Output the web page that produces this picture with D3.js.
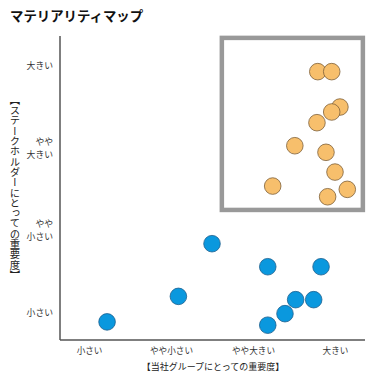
<!DOCTYPE html>
<html><head><meta charset="utf-8">
<script src="https://cdn.jsdelivr.net/npm/d3@7"></script>
<style>
html,body{margin:0;padding:0;background:#fff;}
svg{display:block;font-family:"Noto Sans CJK JP","Noto Sans",sans-serif;}
</style></head>
<body>
<svg id="chart" width="380" height="385"></svg>
<script>
const title = "マテリアリティマップ";
const xAxisTitle = "【当社グループにとっての重要度】";
const yAxisTitle = "【ステークホルダーにとっての重要度】";
const xTickLabels = ["小さい", "やや小さい", "やや大きい", "大きい"];
const yTickLabels = [["小さい"], ["やや", "小さい"], ["やや", "大きい"], ["大きい"]];

// high-materiality items (orange)
const highX = [2.79, 2.96, 3.06, 2.96, 2.78, 2.51, 2.89, 3.00, 2.24, 3.15, 2.91];
const highY = [2.92, 2.92, 2.49, 2.43, 2.30, 2.02, 1.94, 1.70, 1.53, 1.49, 1.40];
// other items (blue)
const lowX = [1.50, 2.18, 2.83, 1.09, 2.52, 2.74, 2.39, 0.22, 2.18];
const lowY = [0.83, 0.55, 0.55, 0.19, 0.15, 0.15, -0.02, -0.12, -0.16];
// highlighted region [x0, x1], [y0, y1]
const regionX = [1.62, 3.34];
const regionY = [1.24, 3.33];

const svg = d3.select("#chart");
const x = d3.scaleLinear().domain([-0.354, 3.366]).range([60, 365]);
const y = d3.scaleLinear().domain([-0.34, 3.353]).range([340, 36]);

svg.append("text").attr("x", 10).attr("y", 21)
  .attr("font-size", 13.4).attr("font-weight", "bold").attr("fill", "#111")
  .text(title);

// highlight rectangle
svg.append("rect")
  .attr("x", x(regionX[0])).attr("y", y(regionY[1]))
  .attr("width", x(regionX[1]) - x(regionX[0]))
  .attr("height", y(regionY[0]) - y(regionY[1]))
  .attr("fill", "none").attr("stroke", "#999").attr("stroke-width", 4.5);

// axes
const xAxis = d3.axisBottom(x).tickValues([0,1,2,3]).tickSize(0).tickFormat(d => xTickLabels[d]);
const gx = svg.append("g").attr("transform", "translate(0,340)").call(xAxis);
gx.select(".domain").attr("stroke", "#555").attr("stroke-width", 1.5).attr("d", "M60,0H365");
gx.selectAll(".tick text").attr("dy", 0).attr("y", 14).attr("font-size", 8.6)
  .attr("fill", "#333").attr("font-family", "Noto Sans CJK JP");

const yAxis = d3.axisLeft(y).tickValues([0,1,2,3]).tickSize(0).tickFormat("");
const gy = svg.append("g").attr("transform", "translate(60,0)").call(yAxis);
gy.select(".domain").attr("stroke", "#555").attr("stroke-width", 1.5).attr("d", "M0,36V340");
gy.selectAll(".tick").each(function(d) {
  const lines = yTickLabels[d];
  const t = d3.select(this).append("text")
    .attr("text-anchor", "end").attr("font-size", 8.8).attr("fill", "#333")
    .attr("font-family", "Noto Sans CJK JP");
  const lh = 13;
  lines.forEach((s, i) => {
    t.append("tspan").attr("x", -7)
      .attr("y", (i - (lines.length - 1) / 2) * lh + 3.2).text(s);
  });
});

// axis titles
svg.append("text").attr("x", 213).attr("y", 370).attr("text-anchor", "middle")
  .attr("font-size", 9).attr("fill", "#222").text(xAxisTitle);
svg.append("text").attr("x", 15).attr("y", 187.5).attr("text-anchor", "middle")
  .attr("font-size", 10.3).attr("fill", "#222")
  .style("writing-mode", "vertical-rl").style("text-orientation", "mixed")
  .text(yAxisTitle);

// points
const low = lowX.map((v, i) => ({x: v, y: lowY[i]}));
const high = highX.map((v, i) => ({x: v, y: highY[i]}));
svg.append("g").selectAll("circle").data(low).join("circle")
  .attr("cx", d => x(d.x)).attr("cy", d => y(d.y)).attr("r", 8.3)
  .attr("fill", "#0A98DE").attr("stroke", "#1D5F8E").attr("stroke-width", 0.8);
svg.append("g").selectAll("circle").data(high).join("circle")
  .attr("cx", d => x(d.x)).attr("cy", d => y(d.y)).attr("r", 8.3)
  .attr("fill", "#F7BF6C").attr("stroke", "#7D6038").attr("stroke-width", 0.8);
</script>
</body></html>
